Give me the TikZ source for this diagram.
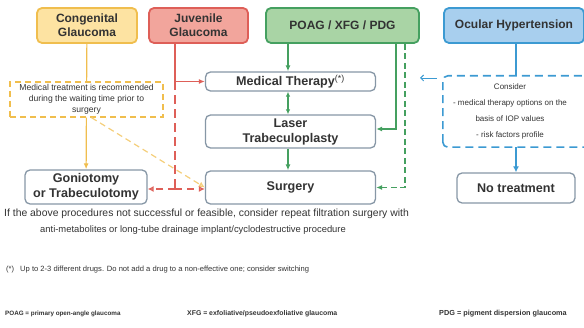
\documentclass[tikz,border=0pt]{standalone}
\usepackage{fontspec}
\setmainfont{Liberation Sans}
\usepackage{tikz}
\usetikzlibrary{shapes,arrows.meta,positioning}

\definecolor{cgFill}{HTML}{FDE3A2}
\definecolor{cgLine}{HTML}{F0BE4E}
\definecolor{jvFill}{HTML}{F2A59C}
\definecolor{jvLine}{HTML}{DE5F58}
\definecolor{poFill}{HTML}{A9D4A5}
\definecolor{poLine}{HTML}{45A060}
\definecolor{ohFill}{HTML}{A8CFEE}
\definecolor{ohLine}{HTML}{3C9AD2}
\definecolor{boxLine}{HTML}{8797A6}
\definecolor{txt}{HTML}{333333}

\begin{document}
\begin{tikzpicture}[x=1pt, y=-1pt, every node/.style={text=txt, inner sep=1pt}]
    \tikzstyle{head} = [rectangle, rounded corners=5pt, line width=1.8pt,
        font=\bfseries\fontsize{12}{14}\selectfont, align=center]
    \tikzstyle{step box} = [rectangle, rounded corners=5pt, draw=boxLine, line width=1.3pt,
        fill=white, font=\bfseries\fontsize{12.6}{15}\selectfont, align=center]
    \tikzstyle{note} = [rectangle, align=center]
    \tikzstyle{tip} = [-{Latex[length=6pt,width=5pt]}]
    \tikzstyle{open tip} = [-{Latex[open,length=6pt,width=6pt]}]
    \useasboundingbox (0,0) rectangle (584,328);

    % disease groups
    \node (cong) [head, draw=cgLine, fill=cgFill, minimum width=100pt, minimum height=35pt]
        at (87,25.5) {Congenital\\Glaucoma};
    \node (juv) [head, draw=jvLine, fill=jvFill, minimum width=99pt, minimum height=35pt]
        at (198.5,25.5) {Juvenile\\Glaucoma};
    \node (poag) [head, draw=poLine, fill=poFill, minimum width=153pt, minimum height=35pt]
        at (342.5,25.5) {POAG / XFG / PDG};
    \node (oht) [head, draw=ohLine, fill=ohFill, minimum width=140pt, minimum height=35pt]
        at (514,25.5) {Ocular Hypertension};

    % treatment steps
    \node (medther) [step box, minimum width=170pt, minimum height=19pt]
        at (290.5,81.5) {Medical Therapy\textsuperscript{\normalfont(*)}};
    \node (laser) [step box, minimum width=170pt, minimum height=33pt]
        at (290.5,131.5) {Laser\\Trabeculoplasty};
    \node (surg) [step box, minimum width=170pt, minimum height=33pt]
        at (290.5,187.5) {Surgery};
    \node (gonio) [step box, minimum width=122pt, minimum height=34pt]
        at (86,187) {Goniotomy\\or Trabeculotomy};
    \node (notreat) [step box, minimum width=118pt, minimum height=30pt]
        at (516,188) {No treatment};

    % dashed notes
    \node (wait) [note, draw=cgLine, line width=1.3pt, dash pattern=on 6pt off 4pt,
        fill=white, minimum width=153pt, minimum height=35pt,
        font=\fontsize{8.6}{10.8}\selectfont] at (86.5,99.5)
        {Medical treatment is recommended\\during the waiting time prior to\\surgery};
    \node (consider) [note, minimum width=134pt, minimum height=71pt,
        font=\fontsize{8}{15.8}\selectfont] at (510,111.5)
        {Consider\\- medical therapy options on the\\basis of IOP values\\- risk factors profile};
    \draw [ohLine, line width=1.6pt, dash pattern=on 8pt off 5pt, rounded corners=5pt]
        (consider.south west) rectangle ([xshift=30pt]consider.north east);

    % congenital
    \draw [cgLine, line width=1.2pt] (cong) -- (wait);
    \draw [cgLine, line width=1.2pt, tip] (wait) -- (gonio);
    \draw [cgLine!75, line width=1.2pt, dash pattern=on 6pt off 4pt, open tip]
        ([xshift=5pt]wait.south) -- (surg.west);

    % juvenile
    \coordinate (jsplit) at (175,81.5);
    \coordinate (jjoin) at (175,189);
    \draw [jvLine, line width=1.3pt] (juv.south -| jsplit) -- (jsplit);
    \draw [jvLine, line width=1.3pt, tip] (jsplit) -- (medther.west);
    \draw [jvLine, line width=1.3pt, dash pattern=on 9pt off 5pt] (jsplit) -- (jjoin);
    \draw [jvLine, line width=1.3pt, dash pattern=on 7pt off 5pt, open tip]
        (jjoin) -- (gonio.east |- jjoin);
    \draw [jvLine, line width=1.3pt, dash pattern=on 7pt off 5pt, open tip]
        (jjoin) -- (surg.west |- jjoin);

    % POAG / XFG / PDG
    \coordinate (gLaser) at (396,129);
    \coordinate (gSurg) at (405,187.5);
    \draw [poLine, line width=1.2pt, tip] (poag.south -| 288,0) -- (medther.north -| 288,0);
    \draw [poLine, line width=1.2pt, {Latex[length=5pt,width=4.5pt]}-{Latex[length=5pt,width=4.5pt]}]
        (medther.south -| 288,0) -- (laser.north -| 288,0);
    \draw [poLine, line width=1.2pt, tip] (laser.south -| 288,0) -- (surg.north -| 288,0);
    \draw [poLine, line width=1.2pt, tip] (poag.south -| gLaser) -- (gLaser) -- (laser.east |- gLaser);
    \draw [poLine, line width=1.2pt, dash pattern=on 6pt off 3.5pt, tip]
        (poag.south -| gSurg) -- (gSurg) -- (surg.east);

    % ocular hypertension
    \coordinate (ohLeft) at (420,78);
    \draw [ohLine, line width=1.6pt] (oht.south -| 516,0) -- (consider.north -| 516,0);
    \draw [ohLine, line width=1.6pt, -{Latex[length=6pt,width=6pt]}]
        (consider.south -| notreat) -- (notreat.north);
    \draw [ohLine, line width=0.9pt, shorten <=6pt, -{Straight Barb[length=3pt,width=6pt]}]
        (consider.west |- ohLeft) -- (ohLeft);

    % remarks
    \node (remA) [anchor=west, font=\fontsize{10.4}{12}\selectfont] at (3,214)
        {If the above procedures not successful or feasible, consider repeat filtration surgery with};
    \node (remB) [anchor=west, font=\fontsize{9.4}{12}\selectfont] at (39,230)
        {anti-metabolites or long-tube drainage implant/cyclodestructive procedure};
    \node (star) [anchor=west, font=\fontsize{7.5}{9}\selectfont] at (5,270) {(*)};
    \node (drugs) [anchor=west, font=\fontsize{7.6}{9}\selectfont] at (19,270)
        {Up to 2-3 different drugs. Do not add a drug to a non-effective one; consider switching};
    \node (abPOAG) [anchor=west, font=\bfseries\fontsize{6.3}{8}\selectfont] at (4,314)
        {POAG = primary open-angle glaucoma};
    \node (abXFG) [anchor=west, font=\bfseries\fontsize{6.9}{8}\selectfont] at (186,314)
        {XFG = exfoliative/pseudoexfoliative glaucoma};
    \node (abPDG) [anchor=west, font=\bfseries\fontsize{7.3}{8}\selectfont] at (438,314)
        {PDG = pigment dispersion glaucoma};
\end{tikzpicture}
\end{document}
